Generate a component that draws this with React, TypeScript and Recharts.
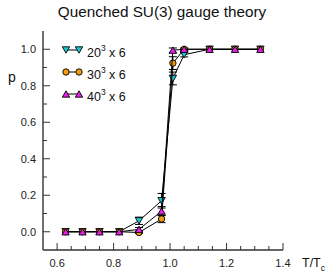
import { ComposedChart, Scatter, XAxis, YAxis, ErrorBar } from "recharts";

// T/Tc values where each lattice was measured
const temps = [0.63, 0.69, 0.75, 0.82, 0.89, 0.97, 1.01, 1.05, 1.14, 1.23, 1.32];

// order parameter p and its errors, per lattice size
const p20 = [0, 0, 0, 0, 0.06, 0.17, 0.84, 0.97, 1.0, 1.0, 1.0];
const err20 = [0, 0, 0, 0, 0.02, 0.04, 0.035, 0.012, 0, 0, 0];
const p30 = [0, 0, 0, 0, -0.004, 0.07, 0.924, 1.0, 1.0, 1.0, 1.0];
const err30 = [0, 0, 0, 0, 0.006, 0.02, 0.035, 0.006, 0, 0, 0];
const p40 = [0, 0, 0, 0, 0.013, 0.113, 0.995, 1.0, 1.0, 1.0, 1.0];
const err40 = [0, 0, 0, 0, 0.01, 0.025, 0.012, 0.006, 0, 0, 0];

const xTicks = [0.6, 0.65, 0.7, 0.75, 0.8, 0.85, 0.9, 0.95, 1.0, 1.05, 1.1, 1.15, 1.2, 1.25, 1.3, 1.35, 1.4];
const yTicks = [0, 0.1, 0.2, 0.3, 0.4, 0.5, 0.6, 0.7, 0.8, 0.9, 1.0];

const CYAN = "#19c8d2";
const ORANGE = "#f09a10";
const MAGENTA = "#e61ee6";
const AXIS = "#333";
const FONT = "'Liberation Sans', Arial, sans-serif";

const toRows = (ys: number[], errs: number[]) =>
  temps.map((t, i) => ({ t, p: ys[i], err: errs[i] }));

const rows20 = toRows(p20, err20);
const rows30 = toRows(p30, err30);
const rows40 = toRows(p40, err40);

const isMajor = (v: number, step: number) => Math.abs(v / step - Math.round(v / step)) < 1e-6;

function triangle(cx: number, cy: number, fill: string, down: boolean) {
  const w = 3.7;
  const h = 3.2;
  const pts = down
    ? `${cx - w},${cy - h} ${cx + w},${cy - h} ${cx},${cy + h}`
    : `${cx - w},${cy + h} ${cx + w},${cy + h} ${cx},${cy - h}`;
  return <polygon points={pts} fill={fill} stroke="#000" strokeWidth={0.9} />;
}

const DownTri = (props: any) => triangle(props.cx, props.cy, CYAN, true);
const UpTri = (props: any) => triangle(props.cx, props.cy, MAGENTA, false);
const Dot = (props: any) => (
  <circle cx={props.cx} cy={props.cy} r={3.2} fill={ORANGE} stroke="#000" strokeWidth={0.9} />
);

const BottomTick = (props: any) => {
  const { x, y, payload } = props;
  const major = isMajor(payload.value, 0.2);
  return (
    <g>
      <line x1={x} x2={x} y1={y} y2={y - (major ? 7 : 4)} stroke={AXIS} strokeWidth={1} />
      {major && (
        <text x={x} y={y + 16.5} textAnchor="middle" fontSize={11} fontFamily={FONT} fill="#222">
          {payload.value.toFixed(1)}
        </text>
      )}
    </g>
  );
};

const TopTick = (props: any) => {
  const { x, y, payload } = props;
  const major = isMajor(payload.value, 0.2);
  return <line x1={x} x2={x} y1={y} y2={y + (major ? 7 : 4)} stroke={AXIS} strokeWidth={1} />;
};

const LeftTick = (props: any) => {
  const { x, y, payload } = props;
  const major = isMajor(payload.value, 0.2);
  return (
    <g>
      <line x1={x} x2={x + (major ? 7 : 4)} y1={y} y2={y} stroke={AXIS} strokeWidth={1} />
      {major && (
        <text x={x - 7} y={y + 4} textAnchor="end" fontSize={11} fontFamily={FONT} fill="#222">
          {payload.value.toFixed(1)}
        </text>
      )}
    </g>
  );
};

const RightTick = (props: any) => {
  const { x, y, payload } = props;
  const major = isMajor(payload.value, 0.2);
  return <line x1={x} x2={x - (major ? 7 : 4)} y1={y} y2={y} stroke={AXIS} strokeWidth={1} />;
};

function LegendRow({ y, label, marker }: { y: number; label: string; marker: (cx: number, cy: number) => any }) {
  return (
    <g>
      <line x1={66} x2={79} y1={y} y2={y} stroke="#000" strokeWidth={1} />
      {marker(66, y)}
      {marker(79, y)}
      <text x={87} y={y + 7} fontSize={12.5} fontFamily={FONT} fill="#111">
        {label}
        <tspan dy={-6} fontSize={8.5}>3</tspan>
        <tspan dy={6}> x 6</tspan>
      </text>
    </g>
  );
}

export default function App() {
  return (
    <div style={{ position: "absolute", left: 0, top: 0, width: 332, height: 273, background: "#fff" }}>
      <ComposedChart width={332} height={273} margin={{ top: 31, right: 49, bottom: 0, left: 0 }}>
        <XAxis
          dataKey="t"
          type="number"
          domain={[0.55, 1.4]}
          ticks={xTicks}
          interval={0}
          allowDataOverflow
          height={23}
          tickSize={0}
          tickMargin={0}
          tickLine={false}
          axisLine={{ stroke: AXIS, strokeWidth: 1.4 }}
          tick={<BottomTick />}
        />
        <XAxis
          xAxisId="top"
          orientation="top"
          dataKey="t"
          type="number"
          domain={[0.55, 1.4]}
          ticks={xTicks}
          interval={0}
          allowDataOverflow
          height={0}
          tickSize={0}
          tickMargin={0}
          tickLine={false}
          axisLine={{ stroke: AXIS, strokeWidth: 1.4 }}
          tick={<TopTick />}
        />
        <YAxis
          dataKey="p"
          type="number"
          domain={[-0.1, 1.1]}
          ticks={yTicks}
          interval={0}
          allowDataOverflow
          width={43}
          tickSize={0}
          tickMargin={0}
          tickLine={false}
          axisLine={{ stroke: AXIS, strokeWidth: 1.4 }}
          tick={<LeftTick />}
        />
        <YAxis
          yAxisId="right"
          orientation="right"
          dataKey="p"
          type="number"
          domain={[-0.1, 1.1]}
          ticks={yTicks}
          interval={0}
          allowDataOverflow
          width={0}
          tickSize={0}
          tickMargin={0}
          tickLine={false}
          axisLine={{ stroke: AXIS, strokeWidth: 1.4 }}
          tick={<RightTick />}
        />
        <Scatter data={rows20} dataKey="p" line={{ stroke: "#000", strokeWidth: 1 }} shape={DownTri} isAnimationActive={false}>
          <ErrorBar dataKey="err" direction="y" width={4} stroke="#000" strokeWidth={1} />
        </Scatter>
        <Scatter data={rows30} dataKey="p" line={{ stroke: "#000", strokeWidth: 1 }} shape={Dot} isAnimationActive={false}>
          <ErrorBar dataKey="err" direction="y" width={4} stroke="#000" strokeWidth={1} />
        </Scatter>
        <Scatter data={rows40} dataKey="p" line={{ stroke: "#000", strokeWidth: 1 }} shape={UpTri} isAnimationActive={false}>
          <ErrorBar dataKey="err" direction="y" width={4} stroke="#000" strokeWidth={1} />
        </Scatter>
      </ComposedChart>
      <svg width={332} height={273} style={{ position: "absolute", left: 0, top: 0, pointerEvents: "none" }}>
        <text x={162} y={17} textAnchor="middle" fontSize={15.3} fontFamily={FONT} fill="#111">
          Quenched SU(3) gauge theory
        </text>
        <text x={8} y={82} fontSize={14} fontFamily={FONT} fill="#111">p</text>
        <text x={302} y={267} fontSize={12.5} fontFamily={FONT} fill="#111">
          T/T<tspan dy={4} fontSize={8.5}>c</tspan>
        </text>
        <LegendRow y={50} label="20" marker={(cx, cy) => triangle(cx, cy, CYAN, true)} />
        <LegendRow y={72} label="30" marker={(cx, cy) => <circle cx={cx} cy={cy} r={3.2} fill={ORANGE} stroke="#000" strokeWidth={0.9} />} />
        <LegendRow y={94} label="40" marker={(cx, cy) => triangle(cx, cy, MAGENTA, false)} />
      </svg>
    </div>
  );
}
